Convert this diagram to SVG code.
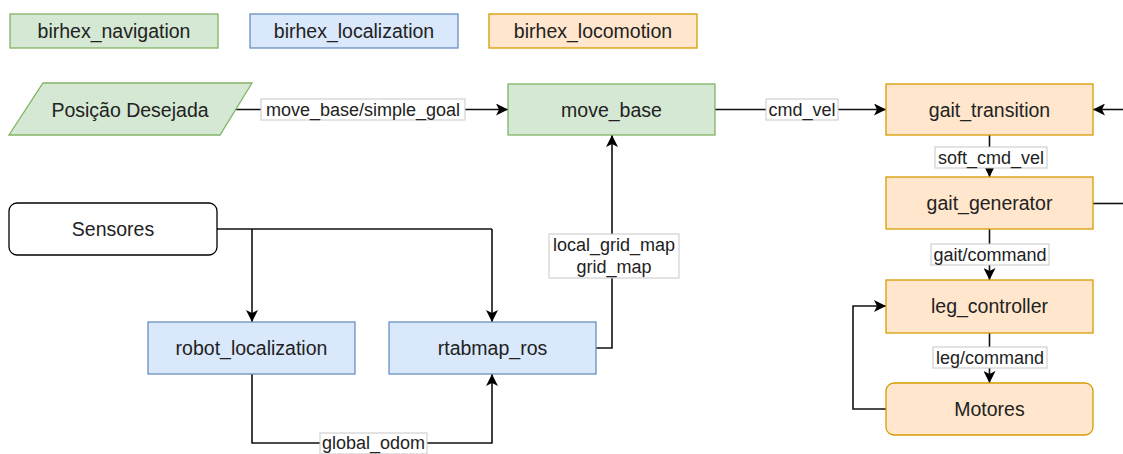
<svg xmlns="http://www.w3.org/2000/svg" width="1123" height="454" viewBox="0 0 1123 454">
<style>
.t{font-family:"Liberation Sans",Arial,sans-serif;font-size:19.5px;fill:#222;text-anchor:middle;dominant-baseline:central}
.l{font-family:"Liberation Sans",Arial,sans-serif;font-size:18px;fill:#222;text-anchor:middle;dominant-baseline:central}
.g{fill:#d5e8d4;stroke:#82b366;stroke-width:1.3}
.b{fill:#dae8fc;stroke:#6c8ebf;stroke-width:1.3}
.o{fill:#ffe6cc;stroke:#d79b00;stroke-width:1.3}
.w{fill:#fff;stroke:#000;stroke-width:1.3}
.e{fill:none;stroke:#111;stroke-width:1.6}
.ea{fill:none;stroke:#111;stroke-width:1.6;marker-end:url(#arr)}
.lb{fill:#fff;stroke:#c8c8c8;stroke-width:1}
</style>
<defs>
<marker id="arr" viewBox="0 0 12 12" refX="12" refY="6" markerWidth="12" markerHeight="12" markerUnits="userSpaceOnUse" orient="auto">
<path d="M0,0 L12,6 L0,12 L3,6 Z" fill="#000"/>
</marker>
</defs>
<rect width="1123" height="454" fill="#fff"/>

<g id="legend-navigation"><rect class="g" x="10" y="14" width="208" height="34"/><text class="t" x="114" y="31">birhex_navigation</text></g>
<g id="legend-localization"><rect class="b" x="250" y="14" width="208" height="34"/><text class="t" x="354" y="31">birhex_localization</text></g>
<g id="legend-locomotion"><rect class="o" x="489" y="14" width="208" height="34"/><text class="t" x="593" y="31">birhex_locomotion</text></g>

<g id="connectors">
<path class="ea" d="M236,109.5 H508"/>
<path class="ea" d="M715,109.5 H886"/>
<path class="ea" d="M1123,109.5 H1093"/>
<path class="e" d="M1093,203.5 H1123"/>
<path class="ea" d="M989.5,135 V177"/>
<path class="ea" d="M989.5,229 V280"/>
<path class="ea" d="M989.5,333 V383"/>
<path class="ea" d="M886,409 H853 V306 H886"/>
<path class="e" d="M217,229 H492"/>
<path class="ea" d="M252,229 V322"/>
<path class="ea" d="M492,229 V322"/>
<path class="ea" d="M596,348 H612 V135"/>
<path class="ea" d="M252,374 V443 H492 V374"/>
<rect class="lb" x="261" y="99" width="204" height="21"/><text class="l" x="363" y="109.5">move_base/simple_goal</text>
<rect class="lb" x="766" y="99" width="72" height="21"/><text class="l" x="802" y="109.5">cmd_vel</text>
<rect class="lb" x="935" y="147" width="112" height="21"/><text class="l" x="991" y="157.5">soft_cmd_vel</text>
<rect class="lb" x="931" y="244" width="118" height="21"/><text class="l" x="990" y="254.5">gait/command</text>
<rect class="lb" x="933" y="347" width="114" height="21"/><text class="l" x="990" y="357.5">leg/command</text>
<rect class="lb" x="549" y="234" width="130" height="44"/><text class="l" x="614" y="245">local_grid_map</text><text class="l" x="614" y="267">grid_map</text>
<rect class="lb" x="320" y="433" width="107" height="21"/><text class="l" x="373.5" y="443">global_odom</text>
</g>

<g id="posicao-desejada"><path class="g" d="M43,83 H252 L220,135 H9 Z"/><text class="t" x="130" y="109.5">Posição Desejada</text></g>
<g id="move_base"><rect class="g" x="508" y="84" width="207" height="51"/><text class="t" x="611.5" y="109.5">move_base</text></g>
<g id="gait_transition"><rect class="o" x="886" y="84" width="207" height="51"/><text class="t" x="989.5" y="109.5">gait_transition</text></g>
<g id="gait_generator"><rect class="o" x="886" y="177" width="207" height="52"/><text class="t" x="989.5" y="203">gait_generator</text></g>
<g id="leg_controller"><rect class="o" x="886" y="280" width="207" height="53"/><text class="t" x="989.5" y="306">leg_controller</text></g>
<g id="motores"><rect class="o" x="886" y="383" width="207" height="52" rx="8"/><text class="t" x="989.5" y="409">Motores</text></g>
<g id="sensores"><rect class="w" x="9" y="203" width="208" height="52" rx="8"/><text class="t" x="113" y="229">Sensores</text></g>
<g id="robot_localization"><rect class="b" x="148" y="322" width="207" height="52"/><text class="t" x="251.5" y="348">robot_localization</text></g>
<g id="rtabmap_ros"><rect class="b" x="389" y="322" width="207" height="52"/><text class="t" x="492.5" y="348">rtabmap_ros</text></g>
</svg>
